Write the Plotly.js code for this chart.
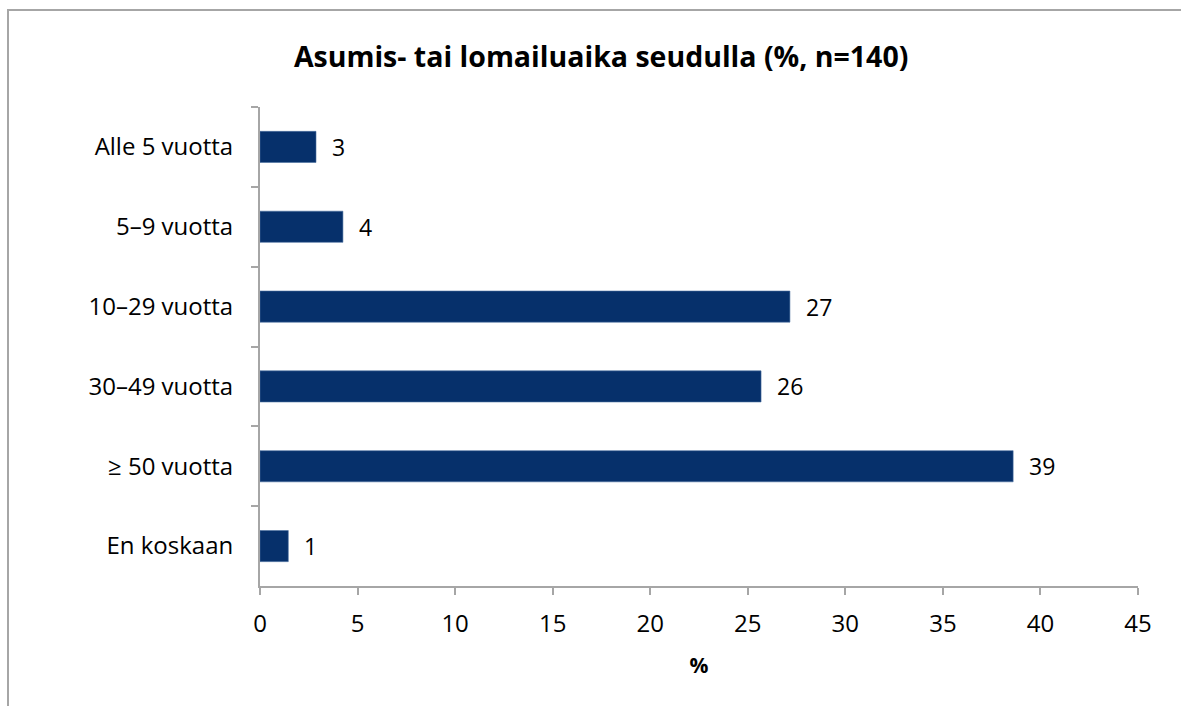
<!DOCTYPE html>
<html>
<head>
<meta charset="utf-8">
<script src="https://cdn.plot.ly/plotly-3.0.1.min.js"></script>
<style>
html,body{margin:0;padding:0;background:#fff;overflow:hidden;}
#frame{position:absolute;left:7px;top:9px;width:1300px;height:800px;border-left:2px solid #a6a6a6;border-top:2px solid #a6a6a6;}
#chart{position:absolute;left:0;top:0;width:1181px;height:706px;}
</style>
</head>
<body>
<div id="frame"></div>
<div id="chart"></div>
<script>
const categories = ["Alle 5 vuotta", "5–9 vuotta", "10–29 vuotta", "30–49 vuotta", "≥ 50 vuotta", "En koskaan"];
const values = [2.87, 4.25, 27.16, 25.68, 38.6, 1.45];
const labels = ["3", "4", "27", "26", "39", "1"];
const xTicks = [0, 5, 10, 15, 20, 25, 30, 35, 40, 45];

const font = "Open Sans, Noto Sans, sans-serif";

const trace = {
  type: "bar",
  orientation: "h",
  x: values,
  y: categories,
  marker: {color: "#06306b", line: {color: "#4a6fa0", width: 0.6}},
  width: 0.39,
  hoverinfo: "skip"
};

const annotations = values.map((v, i) => ({
  x: v, y: categories[i], xref: "x", yref: "y",
  text: labels[i], showarrow: false, xanchor: "left", xshift: 14,
  font: {family: font, size: 23, color: "#000"}
}));

const layout = {
  width: 1181, height: 706,
  paper_bgcolor: "rgba(0,0,0,0)", plot_bgcolor: "rgba(0,0,0,0)",
  margin: {l: 260, r: 43, t: 107, b: 120},
  title: {text: "<b>Asumis- tai lomailuaika seudulla (%, n=140)</b>", x: 0.509, xanchor: "center", y: 0.919, yanchor: "middle",
          font: {family: font, size: 28.5, color: "#000"}},
  showlegend: false,
  xaxis: {
    range: [0, 45], tickvals: xTicks, ticktext: xTicks.map(String),
    showgrid: false, zeroline: false, showline: true, linecolor: "#a6a6a6", linewidth: 2,
    ticks: "outside", ticklen: 7, tickwidth: 2, tickcolor: "#a6a6a6",
    tickfont: {family: font, size: 24, color: "#000"},
    ticklabelstandoff: 8,
    title: {text: "<b>%</b>", font: {family: font, size: 21, color: "#000"}, standoff: 21},
    fixedrange: true
  },
  yaxis: {
    type: "category", autorange: "reversed",
    showgrid: false, zeroline: false, showline: true, linecolor: "#a6a6a6", linewidth: 2,
    ticks: "outside", tickson: "boundaries", ticklen: 7, tickwidth: 2, tickcolor: "#a6a6a6",
    tickfont: {family: font, size: 24, color: "#000"},
    ticklabelstandoff: 20,
    fixedrange: true
  },
  annotations: annotations
};

Plotly.newPlot("chart", [trace], layout, {displayModeBar: false, staticPlot: true});
</script>
</body>
</html>
